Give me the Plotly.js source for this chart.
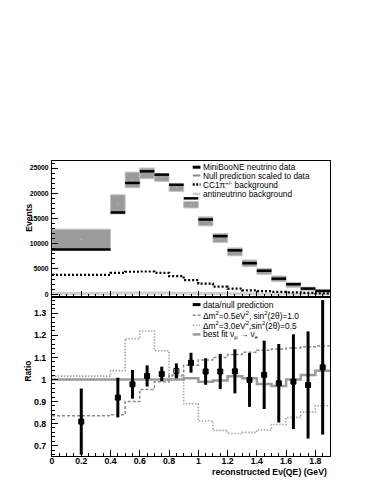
<!DOCTYPE html>
<html><head><meta charset="utf-8">
<script src="https://cdn.plot.ly/plotly-3.0.1.min.js"></script>
<style>html,body{margin:0;padding:0;background:#fff}#c{width:374px;height:485px}</style>
</head><body><div id="c"></div><script>
// ---- data ----
const binLo = [0.0,0.4,0.5,0.6,0.7,0.8,0.9,1.0,1.1,1.2,1.3,1.4,1.5,1.6,1.7,1.8];
const binHi = [0.4,0.5,0.6,0.7,0.8,0.9,1.0,1.1,1.2,1.3,1.4,1.5,1.6,1.7,1.8,1.9];
const nuData   = [8850,16200,22050,24350,23700,21700,19000,14800,11500,8690,6150,4650,3080,1980,1120,660];
const nullPred = [10850,17800,22650,23950,23130,21100,17750,14440,11150,8400,6120,4540,3060,1875,1050,560];
const nullErr  = [2050,1900,1550,1050,770,730,650,890,890,780,660,590,560,495,330,300];
const cc1pi    = [3850,4250,4450,4500,4250,3600,2800,2100,1500,1100,760,600,460,360,260,150];
const antiNu   = [150,220,230,230,220,200,180,150,120,100,80,60,45,35,25,20];

const ratioX   = [0.2,0.45,0.55,0.65,0.75,0.85,0.95,1.05,1.15,1.25,1.35,1.45,1.55,1.65,1.75,1.85];
const ratio    = [0.809,0.918,0.978,1.016,1.025,1.039,1.076,1.036,1.036,1.037,0.998,1.021,0.983,0.99,0.975,1.055];
const ratioErr = [0.15,0.09,0.065,0.048,0.033,0.034,0.045,0.06,0.08,0.1,0.122,0.155,0.178,0.215,0.243,0.305];
const osc05    = [0.835,0.84,0.90,0.955,0.99,1.02,1.065,1.088,1.10,1.113,1.123,1.132,1.138,1.143,1.148,1.152];
const osc30    = [1.015,1.04,1.185,1.22,1.13,1.015,0.89,0.812,0.769,0.755,0.76,0.771,0.796,0.828,0.852,0.881];
const bestFit  = [1.0,1.0,1.0,1.0,1.0,1.0,1.005,0.99,0.995,1.015,1.005,0.98,0.97,1.0,1.02,1.04];

const topLegend = ["MiniBooNE neutrino data","Null prediction scaled to data","CC1\u03c0<sup>+/-</sup> background","antineutrino background"];
const botLegend = ["data/null prediction","\u0394m<sup>2</sup>=0.5eV<sup>2</sup>, sin<sup>2</sup>(2\u03b8)=1.0","\u0394m<sup>2</sup>=3.0eV<sup>2</sup>,sin<sup>2</sup>(2\u03b8)=0.5","best fit \u03bd<sub>\u03bc</sub> \u2192 \u03bd<sub>e</sub>"];

// ---- helpers ----
const centers = binLo.map((l,i)=>(l+binHi[i])/2);
const widths = binLo.map((l,i)=>binHi[i]-l);
function stepX(){ return binLo.concat([binHi[binHi.length-1]]); }
function stepY(v){ return v.concat([v[v.length-1]]); }
function segs(vals){ const x=[],y=[]; vals.forEach((v,i)=>{x.push(binLo[i],binHi[i],null);y.push(v,v,null);}); return {x,y}; }

const W=374,H=485,L=52,R=44,T=161,B=29;
const pw=W-L-R, ph=H-T-B;
const px=x=>(x-L)/pw, py=y=>(H-B-y)/ph;
const split = py(297);

const FONT="Liberation Sans, Arial, sans-serif";
const traces=[];
// top panel
traces.push({type:'bar',x:centers,y:nullErr.map(e=>2*e),base:nullPred.map((v,i)=>v-nullErr[i]),width:widths,
  marker:{color:'#9b9b9b',line:{color:'#c4c4c4',width:1}},xaxis:'x2',yaxis:'y',hoverinfo:'skip'});
traces.push({type:'scatter',mode:'markers',x:centers,y:nullPred,marker:{size:1.5,color:'#bbbbbb'},xaxis:'x2',yaxis:'y'});
traces.push({type:'scatter',mode:'lines',x:stepX(),y:stepY(antiNu),line:{shape:'hv',color:'#cfcfcf',width:3},xaxis:'x2',yaxis:'y'});
traces.push({type:'scatter',mode:'lines',x:stepX(),y:stepY(cc1pi),line:{shape:'hv',color:'#000',width:2.2,dash:'2px,2px'},xaxis:'x2',yaxis:'y'});
const s=segs(nuData);
traces.push({type:'scatter',mode:'lines',x:s.x,y:s.y,line:{color:'#000',width:2.5},xaxis:'x2',yaxis:'y'});
// bottom panel
traces.push({type:'scatter',mode:'lines',x:stepX(),y:stepY(osc30),line:{shape:'hv',color:'#a8a8a8',width:1.6,dash:'1.5px,1.5px'},xaxis:'x',yaxis:'y2'});
traces.push({type:'scatter',mode:'lines',x:stepX(),y:stepY(osc05),line:{shape:'hv',color:'#8a8a8a',width:1.5,dash:'3px,2px'},xaxis:'x',yaxis:'y2'});
traces.push({type:'scatter',mode:'lines',x:stepX(),y:stepY(bestFit),line:{shape:'hv',color:'#9a9a9a',width:2.5},xaxis:'x',yaxis:'y2'});
traces.push({type:'scatter',mode:'markers',x:ratioX,y:ratio,
  error_y:{type:'data',array:ratioErr,width:0,thickness:3,color:'#000'},
  marker:{symbol:ratioX.map((x,i)=>i===5?'square-open-dot':'square'),size:5,color:'#000',line:{color:'#000',width:1}},xaxis:'x',yaxis:'y2'});

const axBase={showline:true,linecolor:'#000',linewidth:1,mirror:true,ticks:'inside',tickcolor:'#000',ticklen:6,tickwidth:1,
  zeroline:false,showgrid:false};
const layout={width:W,height:H,margin:{l:L,r:R,t:T,b:B},paper_bgcolor:'#fff',plot_bgcolor:'#fff',showlegend:false,
  barmode:'overlay',font:{family:FONT,color:'#000'},
  xaxis:Object.assign({},axBase,{anchor:'y2',range:[0,1.9],dtick:0.2,tick0:0,
    tickfont:{family:FONT,size:8.7,weight:'bold'},ticklabelstandoff:-3,
    minor:{dtick:0.05,ticks:'inside',ticklen:3,tickcolor:'#000',showgrid:false}}),
  xaxis2:Object.assign({},axBase,{anchor:'y',matches:'x',range:[0,1.9],dtick:0.2,showticklabels:false,
    minor:{dtick:0.05,ticks:'inside',ticklen:3,tickcolor:'#000',showgrid:false}}),
  yaxis:Object.assign({},axBase,{domain:[split,1],range:[-550,26400],dtick:5000,tick0:0,tickformat:'d',
    tickfont:{family:FONT,size:6.8,weight:'bold'},ticklabelstandoff:1,
    minor:{dtick:1000,ticks:'inside',ticklen:3,tickcolor:'#000',showgrid:false}}),
  yaxis2:Object.assign({},axBase,{domain:[0,split],range:[0.653,1.374],dtick:0.1,tick0:0.7,
    tickfont:{family:FONT,size:8.8,weight:'bold'},ticklabelstandoff:3,
    minor:{dtick:0.02,ticks:'inside',ticklen:3,tickcolor:'#000',showgrid:false}}),
  annotations:[],shapes:[]};

// titles
layout.annotations.push({xref:'paper',yref:'paper',x:px(328),y:py(472.5),xanchor:'right',yanchor:'middle',showarrow:false,
  text:'reconstructed E\u03bd(QE) (GeV)',font:{family:FONT,size:8.7,weight:'bold'},borderpad:0});
layout.annotations.push({xref:'paper',yref:'paper',x:px(28.3),y:py(217.5),xanchor:'center',yanchor:'middle',showarrow:false,textangle:-90,
  text:'Events',font:{family:FONT,size:8.6,weight:'bold'}});
layout.annotations.push({xref:'paper',yref:'paper',x:px(28.3),y:py(371.3),xanchor:'center',yanchor:'middle',showarrow:false,textangle:-90,
  text:'Ratio',font:{family:FONT,size:8.4,weight:'bold'}});

// legends
const topRows=[167.2,175.5,184.6,193.9];
const topStyles=[{color:'#000',width:3},{color:'#8c8c8c',width:2},{color:'#000',width:2.5,dash:'2px,1.5px'},{color:'#cccccc',width:2.5}];
const botRows=[304.6,315.3,325.3,334.4];
const botStyles=[{color:'#000',width:3},{color:'#8a8a8a',width:1.5,dash:'3px,2px'},{color:'#a8a8a8',width:1.5,dash:'1.5px,1.5px'},{color:'#9a9a9a',width:2.5}];
function addLegend(labels,rows,styles,size){
  labels.forEach((t,i)=>{
    layout.shapes.push({type:'line',xref:'paper',yref:'paper',x0:px(192.7),x1:px(200.5),y0:py(rows[i]),y1:py(rows[i]),line:styles[i]});
    layout.annotations.push({xref:'paper',yref:'paper',x:px(201.5),y:py(rows[i]),xanchor:'left',yanchor:'middle',showarrow:false,
      text:t,font:{family:FONT,size:size},borderpad:0});
  });
}
addLegend(topLegend,topRows,topStyles,8.3);
addLegend(botLegend,botRows,botStyles,8.4);

Plotly.newPlot('c',traces,layout,{staticPlot:true,displayModeBar:false});
</script></body></html>
